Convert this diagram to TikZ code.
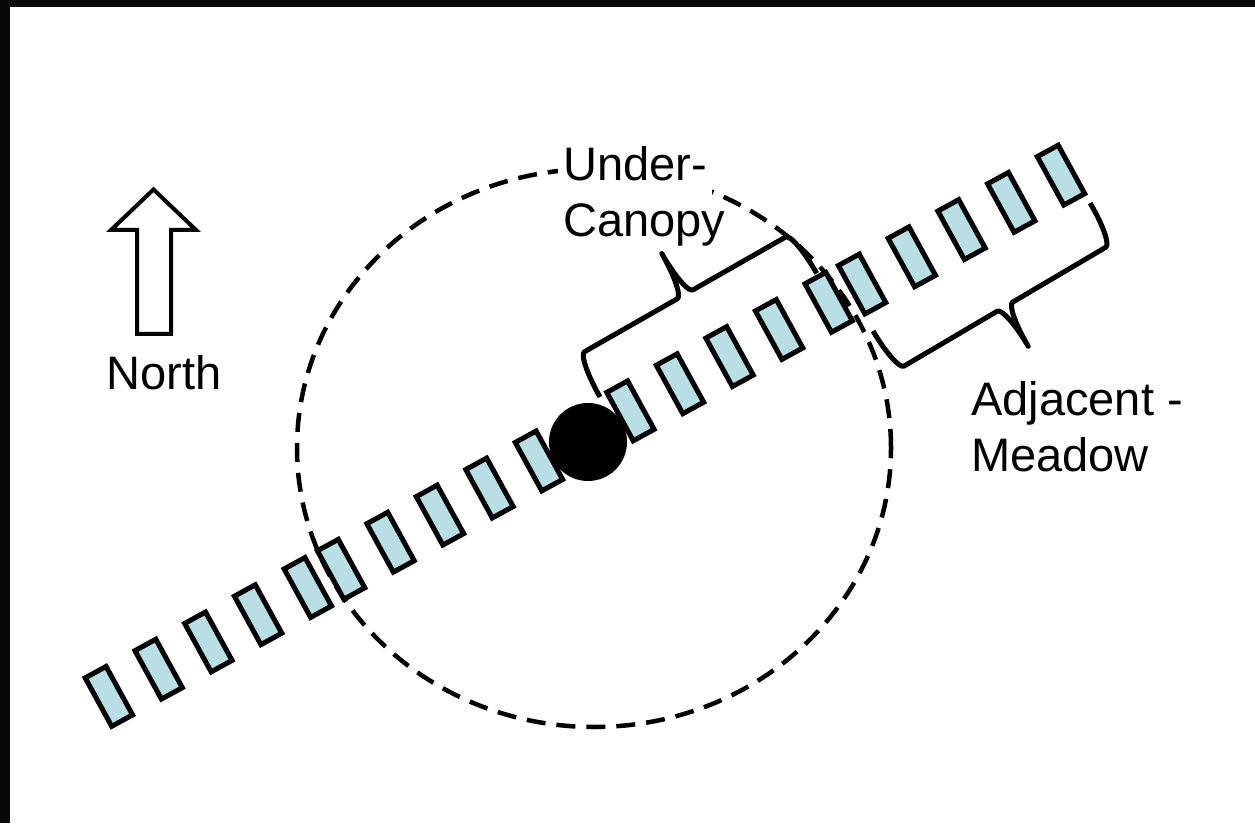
\documentclass[tikz,border=0pt]{standalone}
\usepackage{fontspec}
\setmainfont{Liberation Sans}
\definecolor{quadfill}{RGB}{184,223,227}
\definecolor{frame}{RGB}{8,8,8}
\begin{document}
\begin{tikzpicture}[x=1pt,y=1pt,
  quad/.style={rectangle, draw=black, line width=5pt, fill=quadfill,
    minimum width=23.8pt, minimum height=55.2pt, inner sep=0pt},
  lbl/.style={font=\fontsize{47}{56.7}\selectfont, inner sep=0pt, align=left},
  bracket/.style={line width=5pt, line join=round},
  ring/.style={line width=4.5pt, dash pattern=on 19pt off 11pt}]
% page and dark frame strips
\useasboundingbox (0,0) rectangle (1255,823);
\fill[white] (0,0) rectangle (1255,823);
\fill[frame] (0,816) rectangle (1255,823);
\fill[frame] (0,0) rectangle (10,823);

% canopy outline
\draw[ring] (594,375) ellipse[x radius=297, y radius=279];

% canopy label (white box hides the ring behind it)
\node[lbl, fill=white, inner xsep=5pt, inner ysep=3pt, anchor=north west]
  (under) at (558,680) {Under-\\\makebox[0pt][l]{Canopy}};

% transect of quadrats
\begin{scope}[shift={(108.9,126.6)}, rotate=28.7, transform shape]
  \foreach \t [count=\i] in {0,56.7,113.4,170.1,226.8,
                             264.7,321.1,377.5,433.9,490.3,
                             594.6,651.1,707.6,764.1,820.6,
                             858.7,915.4,972.1,1028.8,1085.5}
    \node[quad] (q\i) at (\t,0) {};
\end{scope}

% tree stem
\node[circle, fill=black, inner sep=0pt, minimum size=78pt] (stem) at (588,381) {};

% brace over the under-canopy quadrats
\begin{scope}[shift={(600,426)}, rotate=29.7]
  \draw[bracket] (0,0) arc[start angle=180, end angle=90, x radius=9, y radius=47]
    -- (115.75,47) arc[start angle=270, end angle=360, x radius=9, y radius=47]
    arc[start angle=180, end angle=270, x radius=9, y radius=47]
    -- (240.5,47) arc[start angle=90, end angle=0, x radius=9, y radius=47];
\end{scope}

% brace under the meadow quadrats
\begin{scope}[shift={(873,492)}, rotate=30.5, yscale=-1]
  \draw[bracket] (0,0) arc[start angle=180, end angle=90, x radius=9, y radius=46]
    -- (117,46) arc[start angle=270, end angle=360, x radius=9, y radius=46]
    arc[start angle=180, end angle=270, x radius=9, y radius=46]
    -- (243,46) arc[start angle=90, end angle=0, x radius=9, y radius=46];
\end{scope}

\node[lbl, anchor=north west] (meadow) at (971,442) {Adjacent -\\Meadow};

% north arrow
\draw[line width=4pt, line join=miter]
  (137,489) -- (137,593) -- (111,593) -- (153.5,633.5) -- (196,593)
  -- (171,593) -- (171,489) -- cycle;
\node[lbl, anchor=base west] (north) at (106.5,433) {North};
\end{tikzpicture}
\end{document}
